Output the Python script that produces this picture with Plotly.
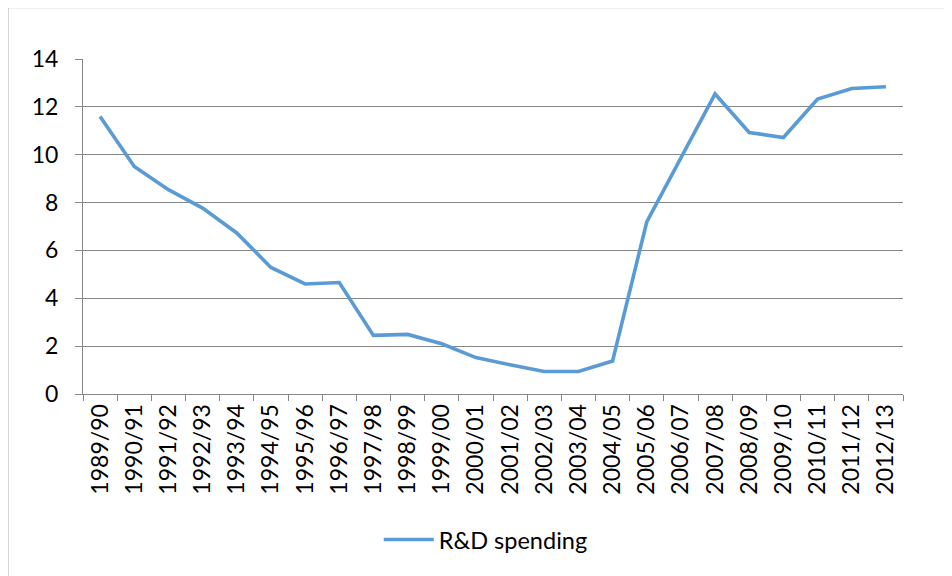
import plotly.graph_objects as go

years = ["1989/90", "1990/91", "1991/92", "1992/93", "1993/94", "1994/95", "1995/96",
         "1996/97", "1997/98", "1998/99", "1999/00", "2000/01", "2001/02", "2002/03",
         "2003/04", "2004/05", "2005/06", "2006/07", "2007/08", "2008/09", "2009/10",
         "2010/11", "2011/12", "2012/13"]
rd_spending = [11.6, 9.51, 8.54, 7.77, 6.73, 5.29, 4.6, 4.66, 2.45, 2.49, 2.1, 1.52,
               1.22, 0.94, 0.94, 1.38, 7.19, 9.9, 12.54, 10.93, 10.72, 12.33, 12.77, 12.84]
y_ticks = [0, 2, 4, 6, 8, 10, 12, 14]

FONT = "Lato, 'Open Sans', sans-serif"
GRID = "#868686"
OFF = 8  # page body margin

fig = go.Figure()
fig.add_trace(go.Scatter(
    x=years, y=rd_spending, mode="lines", name="R&D spending",
    line=dict(color="#5B9BD5", width=3.6),
))

W, H = 952 - OFF, 576 - OFF
L = 83 - OFF
T = 59.3 - OFF
R = W - (903.5 - OFF)
B = H - (394.3 - OFF)
pw, ph = W - L - R, H - T - B

def px(x):  # page x -> paper
    return (x - OFF - L) / pw

def py(y):  # page y -> paper
    return (H - B - (y - OFF)) / ph

fig.update_layout(
    width=W, height=H,
    margin=dict(l=L, r=R, t=T, b=B, pad=0),
    paper_bgcolor="white", plot_bgcolor="white",
    font=dict(family=FONT, size=23, color="#000000"),
    showlegend=True,
    legend=dict(orientation="h", x=px(486), xanchor="center",
                y=py(540), yanchor="middle",
                font=dict(size=23.5), itemwidth=50, bgcolor="rgba(0,0,0,0)"),
    xaxis=dict(
        type="category", range=[-0.5, len(years) - 0.5],
        showgrid=False, showline=True, linecolor=GRID, linewidth=1,
        ticks="outside", tickson="boundaries", ticklen=6, tickcolor=GRID,
        tickangle=-90, tickfont=dict(size=23), fixedrange=True,
    ),
    yaxis=dict(
        range=[0, 14], tickvals=y_ticks, showgrid=True, gridcolor=GRID, gridwidth=1,
        showline=True, linecolor=GRID, linewidth=1, zeroline=False,
        ticks="outside", ticklen=7, tickcolor=GRID, tickfont=dict(size=23),
        ticklabelstandoff=12,
    ),
    shapes=[
        dict(type="line", xref="paper", yref="paper",
             x0=px(8), x1=px(8), y0=py(8), y1=py(576),
             line=dict(color="#BFBFBF", width=1.2)),
        dict(type="line", xref="paper", yref="paper",
             x0=px(8), x1=px(952), y0=py(8), y1=py(8),
             line=dict(color="#BFBFBF", width=1.2)),
    ],
)

fig.write_html("out.html")
